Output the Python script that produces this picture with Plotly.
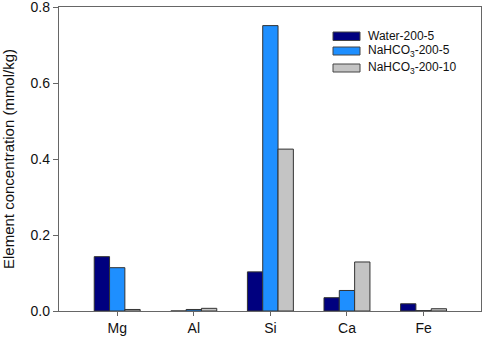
import plotly.graph_objects as go

elements = ["Mg", "Al", "Si", "Ca", "Fe"]
water_200_5 = [0.143, 0.0, 0.103, 0.035, 0.019]
nahco3_200_5 = [0.114, 0.004, 0.751, 0.054, 0.001]
nahco3_200_10 = [0.004, 0.007, 0.426, 0.129, 0.006]

series_names = ["Water-200-5", "NaHCO<sub>3</sub>-200-5", "NaHCO<sub>3</sub>-200-10"]
series_colors = ["#00007F", "#1E8FFF", "#C4C4C4"]

W, H = 484, 338
L, R, T, B = 59, 3, 7, 27
pw, ph = W - L - R, H - T - B

def px_x(px):
    return (px - L) / pw

def px_y(py):
    return (H - B - py) / ph

fig = go.Figure()
for name, vals, col in zip(series_names, [water_200_5, nahco3_200_5, nahco3_200_10], series_colors):
    fig.add_trace(go.Bar(
        x=elements, y=vals, name=name,
        marker=dict(color=col, line=dict(color="#333333", width=1)),
    ))

# manual legend (wide rectangular swatches like the original)
leg_rows = [(32, 40.5), (47, 55), (64, 72)]
for (y0, y1), name, col in zip(leg_rows, series_names, series_colors):
    fig.add_shape(type="rect", xref="paper", yref="paper",
                  x0=px_x(333), x1=px_x(360), y0=px_y(y1), y1=px_y(y0),
                  fillcolor=col, line=dict(color="#444444", width=1))
    fig.add_annotation(xref="paper", yref="paper", x=px_x(366), y=px_y((y0 + y1) / 2),
                       text=name, showarrow=False, xanchor="left", yanchor="middle",
                       font=dict(size=12, color="#111111"))

fig.update_layout(
    width=W, height=H,
    margin=dict(l=L, r=R, t=T, b=B),
    paper_bgcolor="white", plot_bgcolor="white",
    barmode="group", bargap=0.4, bargroupgap=0,
    font=dict(family="Liberation Sans, Arial, sans-serif", color="#111111"),
    showlegend=False,
    xaxis=dict(
        range=[-0.76, 4.75], showline=True, linecolor="#666666", linewidth=1.3,
        mirror=True, ticks="outside", ticklen=4, tickcolor="#666666",
        tickfont=dict(size=14), showgrid=False, zeroline=False, automargin=False,
    ),
    yaxis=dict(
        range=[0, 0.8], tickvals=[0, 0.2, 0.4, 0.6, 0.8],
        ticktext=["0.0", "0.2", "0.4", "0.6", "0.8"],
        showline=True, linecolor="#666666", linewidth=1.3, mirror=True,
        ticks="outside", ticklen=5, tickcolor="#666666",
        tickfont=dict(size=14), showgrid=False, zeroline=False, automargin=False,
        ticklabeloverflow="allow",
        title=dict(text="Element concentration (mmol/kg)", font=dict(size=15), standoff=13),
    ),
)

fig.write_html("out.html", config={"displayModeBar": False},
               post_script="document.body.style.margin='0';document.body.style.overflow='hidden';")
